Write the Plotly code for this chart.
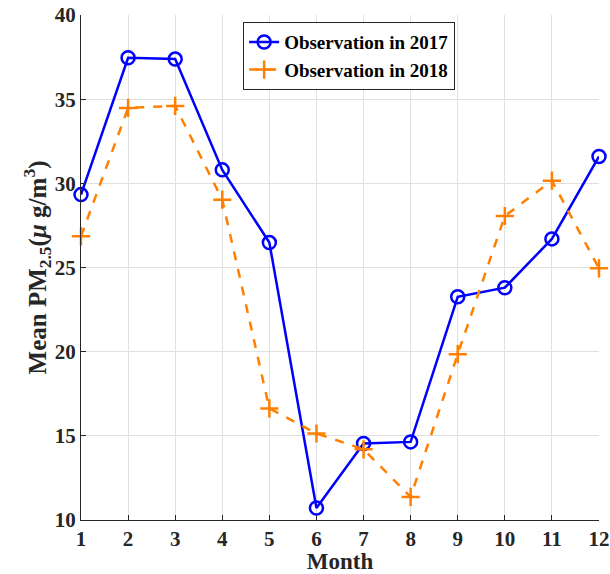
import plotly.graph_objects as go

months = list(range(1, 13))
obs_2017 = [29.33, 37.46, 37.38, 30.8, 26.48, 10.71, 14.55, 14.64, 23.26, 23.8, 26.7, 31.6]
obs_2018 = [26.85, 34.48, 34.6, 29.03, 16.63, 15.14, 14.2, 11.37, 19.85, 28.06, 30.16, 24.95]
x_ticks = months
y_ticks = [10, 15, 20, 25, 30, 35, 40]

font_family = "Liberation Serif"

fig = go.Figure()
fig.add_trace(go.Scatter(
    x=months, y=obs_2017, mode="lines+markers",
    name="<b>Observation in 2017</b>",
    line=dict(color="#0000FF", width=2.5),
    marker=dict(symbol="circle-open", size=13, color="#0000FF", line=dict(width=2.5)),
    cliponaxis=False,
))
fig.add_trace(go.Scatter(
    x=months, y=obs_2018, mode="lines+markers",
    name="<b>Observation in 2018</b>",
    line=dict(color="#FF8000", width=2.5, dash="dash"),
    marker=dict(symbol="cross-thin-open", size=13, color="#FF8000", line=dict(width=2.5, color="#FF8000")),
    cliponaxis=False,
))

axis_common = dict(
    showgrid=True, gridcolor="#E0E0E0", gridwidth=1,
    showline=True, linecolor="#262626", linewidth=1,
    ticks="inside", ticklen=5, tickcolor="#262626",
    tickfont=dict(family=font_family, size=21, color="#262626"),
    zeroline=False, automargin=False,
)

fig.update_layout(
    width=610, height=574,
    margin=dict(l=81, r=11, t=15, b=54),
    paper_bgcolor="white", plot_bgcolor="white",
    font=dict(family=font_family, color="#262626"),
    xaxis=dict(range=[1, 12], tickvals=x_ticks,
               ticktext=[f"<b>{m}</b>" for m in x_ticks],
               title=dict(text="<b>Month</b>", font=dict(family=font_family, size=23, color="#262626"), standoff=3),
               **axis_common),
    yaxis=dict(range=[10, 40], tickvals=y_ticks,
               ticktext=[f"<b>{v}</b>" for v in y_ticks],
               title=dict(text="<b>Mean PM<sub>2.5</sub>(<i>μ</i> g/m<sup>3</sup>)</b>",
                          font=dict(family=font_family, size=25, color="#262626"), standoff=1),
               **axis_common),
    legend=dict(x=0.313, y=0.986, xanchor="left", yanchor="top",
                bgcolor="white", bordercolor="#262626", borderwidth=1,
                font=dict(family=font_family, size=19, color="black"),
                tracegroupgap=0, itemwidth=30),
    showlegend=True,
)

fig.write_html("out.html")
